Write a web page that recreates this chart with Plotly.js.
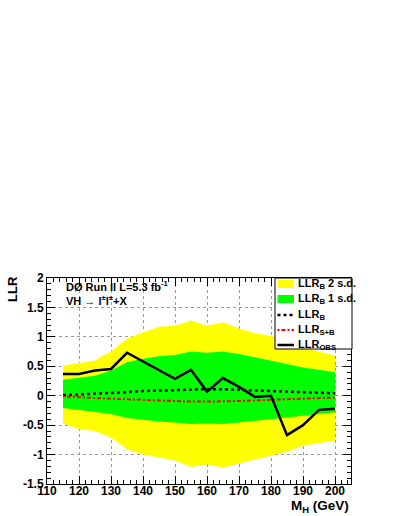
<!DOCTYPE html>
<html>
<head>
<meta charset="utf-8">
<script src="https://cdn.plot.ly/plotly-3.0.1.min.js"></script>
<style>
html,body{margin:0;padding:0;background:#fff;}
#chart{width:399px;height:516px;}
</style>
</head>
<body>
<div id="chart"></div>
<script>
// ---- data ----
const massGeV = [115,120,125,130,135,140,145,150,155,160,165,170,175,180,185,190,195,200];
const llrObs  = [0.37,0.37,0.43,0.455,0.73,0.58,0.43,0.285,0.44,0.07,0.30,0.15,-0.02,0.0,-0.67,-0.50,-0.24,-0.22];
const llrB    = [0.01,0.02,0.03,0.04,0.06,0.08,0.09,0.10,0.11,0.11,0.11,0.10,0.09,0.08,0.07,0.06,0.05,0.04];
const llrSB   = [-0.01,-0.03,-0.04,-0.05,-0.06,-0.08,-0.09,-0.10,-0.10,-0.10,-0.10,-0.09,-0.08,-0.07,-0.06,-0.05,-0.04,-0.03];
const b1sdUp  = [0.27,0.31,0.34,0.43,0.57,0.63,0.67,0.69,0.75,0.73,0.75,0.71,0.65,0.60,0.54,0.48,0.44,0.40];
const b1sdLo  = [-0.21,-0.24,-0.27,-0.31,-0.38,-0.41,-0.44,-0.455,-0.48,-0.47,-0.48,-0.455,-0.43,-0.40,-0.37,-0.34,-0.31,-0.28];
const b2sdUp  = [0.51,0.56,0.60,0.75,0.97,1.08,1.17,1.19,1.28,1.19,1.25,1.14,1.06,1.02,0.91,0.82,0.75,0.68];
const b2sdLo  = [-0.47,-0.57,-0.60,-0.71,-0.91,-1.00,-1.05,-1.10,-1.21,-1.17,-1.22,-1.15,-1.08,-1.02,-0.95,-0.85,-0.80,-0.76];
const xTickVals = [110,120,130,140,150,160,170,180,190,200];
const yTickVals = [-1.5,-1,-0.5,0,0.5,1,1.5,2];
const yTickText = ['-1.5','-1','-0.5','0','0.5','1','1.5','2'];
const legendNames = ['LLR<sub>B</sub> 2 s.d.','LLR<sub>B</sub> 1 s.d.','LLR<sub>B</sub>','LLR<sub>S+B</sub>','LLR<sub>OBS</sub>'];

// ---- geometry helpers (plot frame in pixels) ----
const L = 47, R = 351, T = 278, B = 484;
const px = v => (v - L) / (R - L);
const py = v => (B - v) / (B - T);

const FONT = 'Liberation Sans, Arial, Helvetica, sans-serif';
const YEL = '#ffff00', GRN = '#00ff00', RED = '#ff0000';

const traces = [
  {x: massGeV, y: b2sdLo, mode:'lines', line:{width:0, color:YEL}, showlegend:false, hoverinfo:'skip'},
  {x: massGeV, y: b2sdUp, mode:'lines', line:{width:0, color:YEL}, fill:'tonexty', fillcolor:YEL, showlegend:false, name:legendNames[0]},
  {x: massGeV, y: b1sdLo, mode:'lines', line:{width:0, color:GRN}, showlegend:false, hoverinfo:'skip'},
  {x: massGeV, y: b1sdUp, mode:'lines', line:{width:0, color:GRN}, fill:'tonexty', fillcolor:GRN, showlegend:false, name:legendNames[1]},
  {x: massGeV, y: llrB, mode:'lines', line:{color:'#000', width:2.5, dash:'3px,3px'}, showlegend:false, name:legendNames[2]},
  {x: massGeV, y: llrSB, mode:'lines', line:{color:RED, width:2, dash:'2px,2px,4px,2px'}, showlegend:false, name:legendNames[3]},
  {x: massGeV, y: llrObs, mode:'lines', line:{color:'#000', width:2.5}, showlegend:false, name:legendNames[4]}
];

// manual ROOT-style legend
const legL = 275, legR = 352, legT = 278, legB = 349;
const rowY = [284, 299, 315, 330, 345];
const symL = 277.5, symR = 294, txtX = 296;
const shapes = [
  {type:'rect', xref:'paper', yref:'paper', x0:px(legL), x1:px(legR), y0:py(legB), y1:py(legT), line:{color:'#000', width:1}, fillcolor:'#fff', layer:'above'},
  {type:'rect', xref:'paper', yref:'paper', x0:px(symL), x1:px(symR), y0:py(rowY[0]+4), y1:py(rowY[0]-4), line:{width:0}, fillcolor:YEL, layer:'above'},
  {type:'rect', xref:'paper', yref:'paper', x0:px(symL), x1:px(symR), y0:py(rowY[1]+4), y1:py(rowY[1]-4), line:{width:0}, fillcolor:GRN, layer:'above'},
  {type:'line', xref:'paper', yref:'paper', x0:px(symL), x1:px(symR), y0:py(rowY[2]), y1:py(rowY[2]), line:{color:'#000', width:2.5, dash:'3px,3px'}, layer:'above'},
  {type:'line', xref:'paper', yref:'paper', x0:px(symL), x1:px(symR), y0:py(rowY[3]), y1:py(rowY[3]), line:{color:RED, width:2, dash:'2px,2px,4px,2px'}, layer:'above'},
  {type:'line', xref:'paper', yref:'paper', x0:px(symL), x1:px(symR), y0:py(rowY[4]), y1:py(rowY[4]), line:{color:'#000', width:2.5}, layer:'above'}
];

const annotations = legendNames.map((n, i) => ({
  xref:'paper', yref:'paper', x:px(txtX), y:py(rowY[i]), xanchor:'left', yanchor:'middle',
  text:n, showarrow:false, font:{family:FONT, size:11, color:'#000', weight:'bold'}
}));
annotations.push(
  {xref:'paper', yref:'paper', x:px(64), y:py(286), xanchor:'left', yanchor:'middle', showarrow:false,
   text:'DØ Run II L=5.3 fb<sup>-1</sup>', font:{family:FONT, size:11, color:'#000', weight:'bold'}},
  {xref:'paper', yref:'paper', x:px(64), y:py(300), xanchor:'left', yanchor:'middle', showarrow:false,
   text:'VH → l<sup>±</sup>l<sup>±</sup>+X', font:{family:FONT, size:11, color:'#000', weight:'bold'}},
  {xref:'paper', yref:'paper', x:px(12), y:py(289), xanchor:'center', yanchor:'middle', textangle:-90, showarrow:false,
   text:'LLR', font:{family:FONT, size:13, color:'#000', weight:'bold'}},
  {xref:'paper', yref:'paper', x:px(351), y:py(506), xanchor:'right', yanchor:'middle', showarrow:false,
   text:'M<sub>H</sub> (GeV)', font:{family:FONT, size:13.5, color:'#000', weight:'bold'}}
);

const axisCommon = {
  showline:true, linecolor:'#000', linewidth:1, mirror:'allticks',
  ticks:'inside', ticklen:8, tickcolor:'#000', tickwidth:1,
  showgrid:true, gridcolor:'#9a9a9a', gridwidth:1, griddash:'dot',
  zeroline:false, tickfont:{family:FONT, size:12, color:'#000', weight:'bold'}
};

const layout = {
  width:399, height:516,
  margin:{l:L, r:399-R, t:T, b:516-B, pad:0},
  paper_bgcolor:'#fff', plot_bgcolor:'#fff',
  showlegend:false,
  font:{family:FONT, color:'#000'},
  xaxis: Object.assign({}, axisCommon, {
    range:[110,205], tickmode:'array', tickvals:xTickVals, ticklabelstandoff:-4,
    minor:{dtick:2, tick0:110, ticks:'inside', ticklen:4, tickcolor:'#000', showgrid:false}
  }),
  yaxis: Object.assign({}, axisCommon, {
    range:[-1.5,2], tickmode:'array', tickvals:yTickVals, ticktext:yTickText,
    minor:{dtick:0.1, tick0:0, ticks:'inside', ticklen:4, tickcolor:'#000', showgrid:false}
  }),
  shapes: shapes,
  annotations: annotations
};

Plotly.newPlot('chart', traces, layout, {staticPlot:true, displayModeBar:false});
</script>
</body>
</html>
